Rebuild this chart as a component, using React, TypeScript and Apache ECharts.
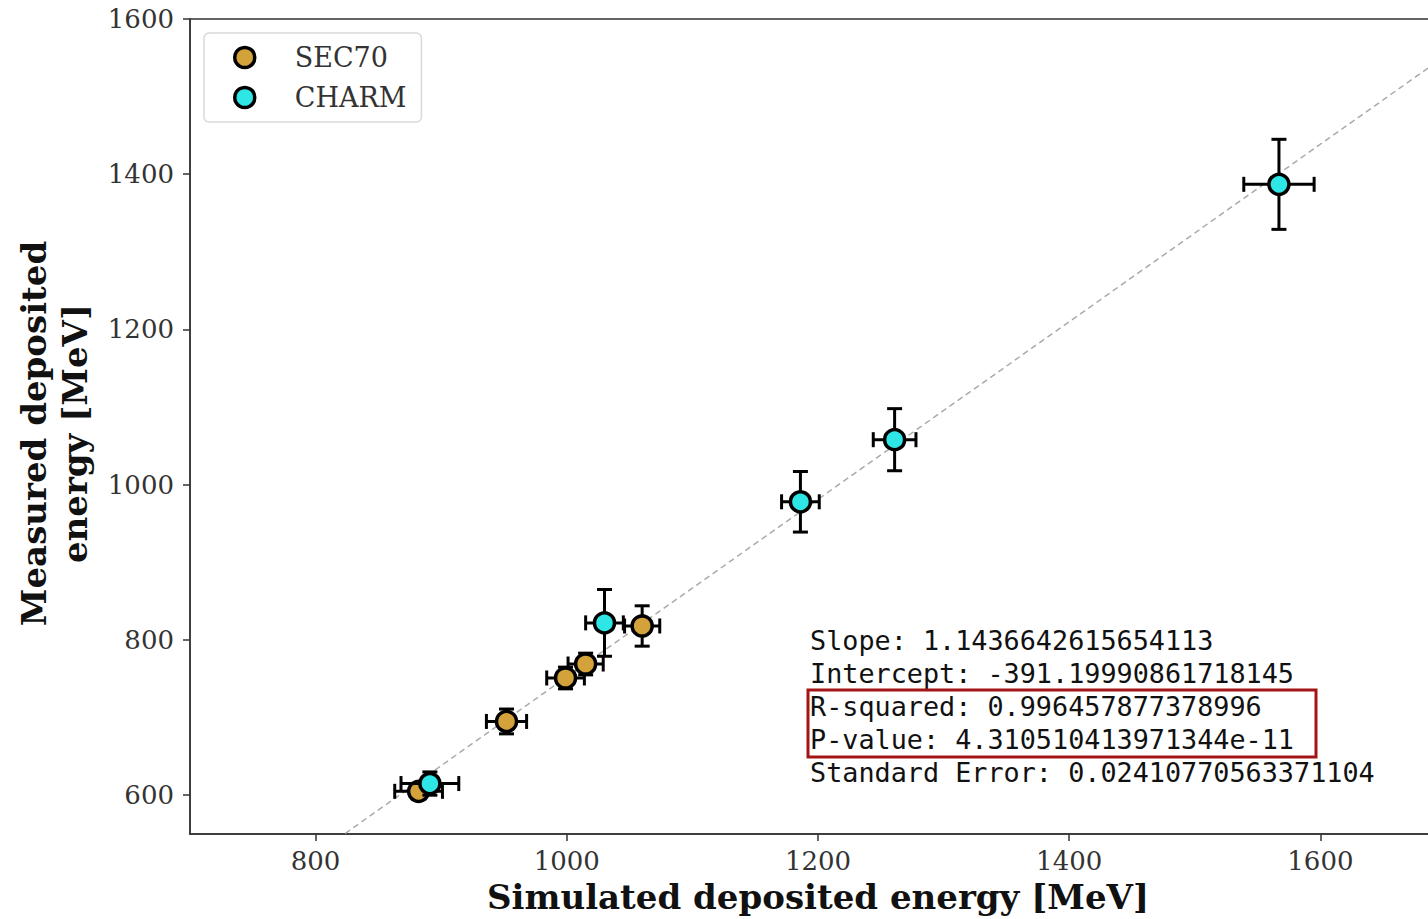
import React, { useEffect, useRef } from "react";
import * as echarts from "echarts";

const SEC70_X = [882, 952, 999, 1015, 1060];
const SEC70_Y = [605, 695, 751, 769, 818];
const SEC70_XERR = [19, 16, 15, 14, 14];
const SEC70_YERR = [10, 16, 14, 14, 26];

const CHARM_X = [891, 1030, 1186, 1261, 1567];
const CHARM_Y = [615, 822, 978, 1058, 1387];
const CHARM_XERR = [23, 15, 15, 17, 28];
const CHARM_YERR = [15, 43, 39, 40, 58];

const FIT_SLOPE = 1.1436642615654113;
const FIT_INTERCEPT = -391.19990861718145;

const X_TICKS = [800, 1000, 1200, 1400, 1600];
const Y_TICKS = [600, 800, 1000, 1200, 1400, 1600];
const X_RANGE = [700, 1700];
const Y_RANGE = [550, 1600];

const STATS_LINES = [
  "Slope: 1.1436642615654113",
  "Intercept: -391.19990861718145",
  "R-squared: 0.996457877378996",
  "P-value: 4.310510413971344e-11",
  "Standard Error: 0.02410770563371104",
];

const SEC70_COLOR = "#D4A23A";
const CHARM_COLOR = "#2EE6E6";
const SERIF = "'DejaVu Serif', serif";
const MONO = "'DejaVu Sans Mono', monospace";

function rows(xs: number[], ys: number[], xe: number[], ye: number[]) {
  return xs.map((x, i) => [x, ys[i], xe[i], ye[i]]);
}

function errorRender(params: any, api: any) {
  const x = api.value(0);
  const y = api.value(1);
  const xe = api.value(2);
  const ye = api.value(3);
  const l = api.coord([x - xe, y]);
  const r = api.coord([x + xe, y]);
  const t = api.coord([x, y + ye]);
  const b = api.coord([x, y - ye]);
  const cap = 7.5;
  const style = { stroke: "#000", lineWidth: 3 };
  const ln = (x1: number, y1: number, x2: number, y2: number) => ({
    type: "line",
    shape: { x1, y1, x2, y2 },
    style,
  });
  return {
    type: "group",
    children: [
      ln(l[0], l[1], r[0], r[1]),
      ln(t[0], t[1], b[0], b[1]),
      ln(l[0], l[1] - cap, l[0], l[1] + cap),
      ln(r[0], r[1] - cap, r[0], r[1] + cap),
      ln(t[0] - cap, t[1], t[0] + cap, t[1]),
      ln(b[0] - cap, b[1], b[0] + cap, b[1]),
    ],
  };
}

const plainNumber = (v: number) => String(v);

export default function App() {
  const ref = useRef<HTMLDivElement>(null);
  useEffect(() => {
    if (!ref.current) return;
    const chart = echarts.init(ref.current, null, { renderer: "svg" });
    const sec = rows(SEC70_X, SEC70_Y, SEC70_XERR, SEC70_YERR);
    const charm = rows(CHARM_X, CHARM_Y, CHARM_XERR, CHARM_YERR);
    const fit = X_RANGE.map((x) => [x, FIT_SLOPE * x + FIT_INTERCEPT]);
    const lineH = 33;
    const option: any = {
      animation: false,
      backgroundColor: "#fff",
      grid: {
        left: 190,
        top: 19,
        right: 0,
        bottom: 84,
        show: true,
        borderColor: "#333",
        borderWidth: 1.5,
        backgroundColor: "transparent",
      },
      legend: {
        orient: "vertical",
        left: 204,
        top: 33,
        padding: [11, 15, 11, 29],
        itemGap: 13,
        itemWidth: 20,
        itemHeight: 20,
        backgroundColor: "#fff",
        borderColor: "#d9d9d9",
        borderWidth: 1.5,
        borderRadius: 5,
        textStyle: {
          fontFamily: SERIF,
          fontSize: 27,
          color: "#333",
          padding: [0, 0, 0, 35],
        },
        data: [
          {
            name: "SEC70",
            icon: "circle",
            itemStyle: { color: SEC70_COLOR, borderColor: "#000", borderWidth: 3.5 },
          },
          {
            name: "CHARM",
            icon: "circle",
            itemStyle: { color: CHARM_COLOR, borderColor: "#000", borderWidth: 3.5 },
          },
        ],
      },
      xAxis: {
        type: "value",
        min: X_RANGE[0],
        max: X_RANGE[1],
        name: "Simulated deposited energy [MeV]",
        nameLocation: "middle",
        nameGap: 46,
        nameTextStyle: {
          fontFamily: SERIF,
          fontWeight: "bold",
          fontSize: 34,
          color: "#111",
        },
        axisLine: { show: true, lineStyle: { color: "#333", width: 1.5 } },
        axisTick: {
          show: true,
          length: 7,
          customValues: X_TICKS,
          lineStyle: { color: "#333", width: 1.5 },
        },
        axisLabel: {
          customValues: X_TICKS,
          formatter: plainNumber,
          margin: 14,
          fontFamily: SERIF,
          fontSize: 26,
          color: "#333",
        },
        splitLine: { show: false },
      },
      yAxis: {
        type: "value",
        min: Y_RANGE[0],
        max: Y_RANGE[1],
        name: "Measured deposited\nenergy [MeV]",
        nameLocation: "middle",
        nameRotate: 90,
        nameGap: 95,
        nameTextStyle: {
          fontFamily: SERIF,
          fontWeight: "bold",
          fontSize: 34,
          lineHeight: 41,
          color: "#111",
          align: "center",
          padding: [0, 14, 0, 0],
        },
        axisLine: { show: true, lineStyle: { color: "#333", width: 1.5 } },
        axisTick: {
          show: true,
          length: 7,
          customValues: Y_TICKS,
          lineStyle: { color: "#333", width: 1.5 },
        },
        axisLabel: {
          customValues: Y_TICKS,
          formatter: plainNumber,
          margin: 16,
          fontFamily: SERIF,
          fontSize: 26,
          color: "#333",
        },
        splitLine: { show: false },
      },
      series: [
        {
          type: "line",
          name: "fit",
          data: fit,
          symbol: "none",
          clip: true,
          z: 1,
          lineStyle: { color: "#aaa", width: 1.5, type: [6, 4] },
          silent: true,
        },
        {
          type: "custom",
          name: "SEC70 err",
          data: sec,
          renderItem: errorRender,
          encode: { x: 0, y: 1 },
          z: 2,
        },
        {
          type: "scatter",
          name: "SEC70",
          data: sec.map((d) => [d[0], d[1]]),
          symbol: "circle",
          symbolSize: 20,
          itemStyle: { color: SEC70_COLOR, borderColor: "#000", borderWidth: 3.5, opacity: 1 },
          z: 3,
        },
        {
          type: "custom",
          name: "CHARM err",
          data: charm,
          renderItem: errorRender,
          encode: { x: 0, y: 1 },
          z: 4,
        },
        {
          type: "scatter",
          name: "CHARM",
          data: charm.map((d) => [d[0], d[1]]),
          symbol: "circle",
          symbolSize: 20,
          itemStyle: { color: CHARM_COLOR, borderColor: "#000", borderWidth: 3.5, opacity: 1 },
          z: 5,
        },
      ],
      graphic: [
        ...STATS_LINES.map((s, i) => ({
          type: "text",
          left: 810,
          top: 627 + i * lineH,
          z: 10,
          style: {
            text: s,
            fontFamily: MONO,
            fontSize: 26.8,
            fill: "#111",
          },
        })),
        {
          type: "rect",
          shape: { x: 808, y: 690, width: 508, height: 67 },
          z: 11,
          style: { fill: "none", stroke: "#A31515", lineWidth: 3 },
        },
      ],
    };
    chart.setOption(option);
    return () => chart.dispose();
  }, []);
  return (
    <div style={{ position: "absolute", left: 0, top: 0, width: 1428, height: 919, overflow: "hidden" }}>
      <div ref={ref} style={{ width: 1446, height: 919 }} />
    </div>
  );
}
